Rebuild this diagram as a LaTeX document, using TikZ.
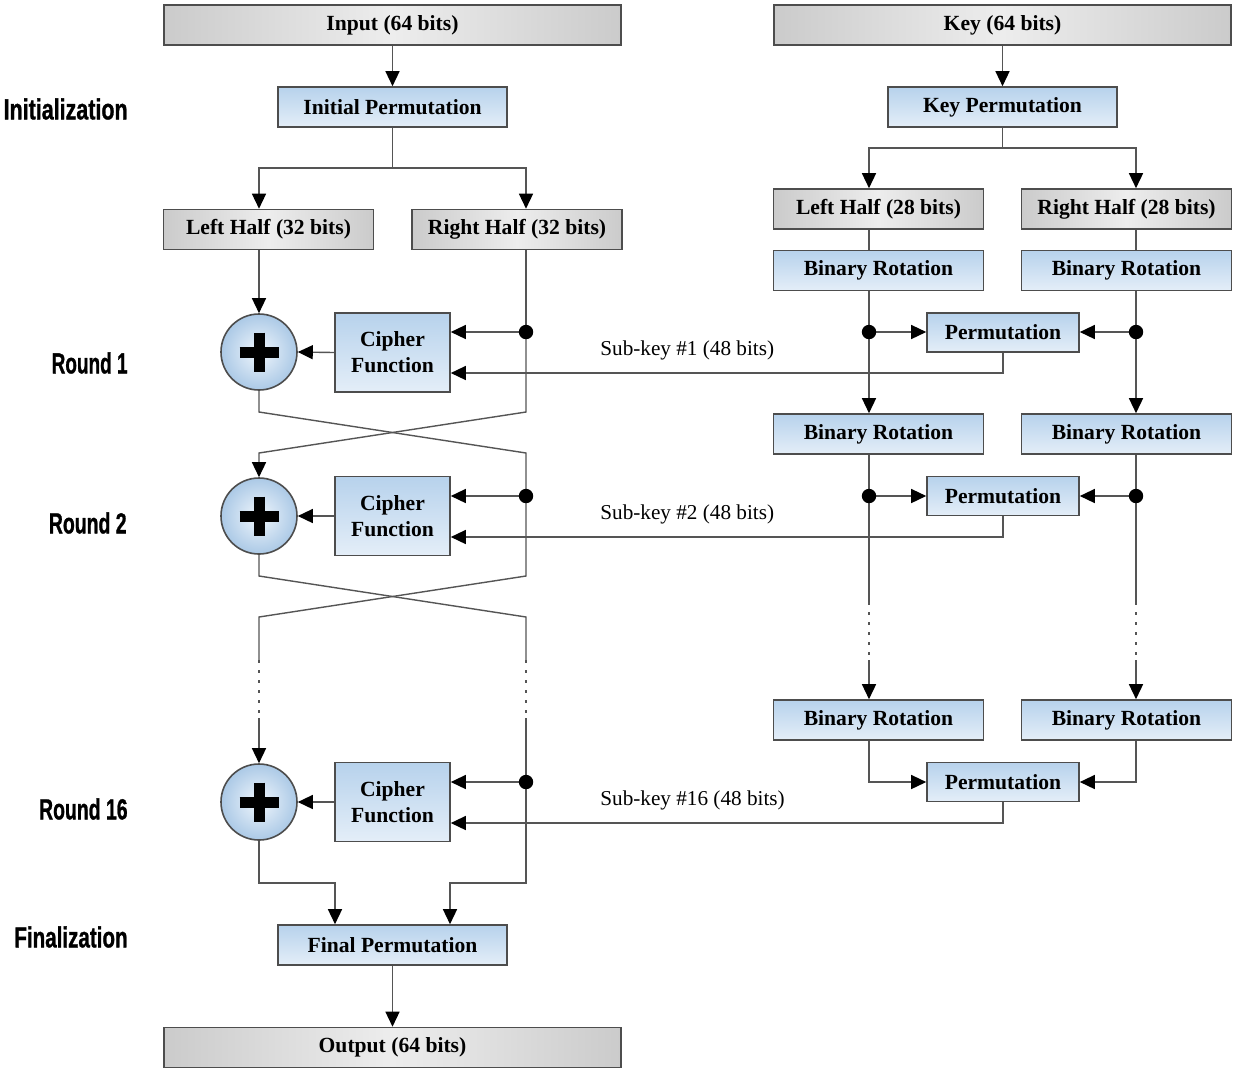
\documentclass[tikz,border=0pt]{standalone}
\usepackage{fontspec}
\setmainfont{Liberation Serif}
\newfontfamily\lblfont{Liberation Sans}[BoldFeatures={FakeBold=1.2}]
\usetikzlibrary{arrows.meta}

\definecolor{edge}{HTML}{4D4D4D}
\definecolor{wirec}{HTML}{555555}
\definecolor{grayA}{HTML}{CBCBCB}
\definecolor{grayB}{HTML}{EDEDED}
\definecolor{blueA}{HTML}{B7D2EC}
\definecolor{blueB}{HTML}{E4EEF8}
\definecolor{circIn}{HTML}{F0F6FC}
\definecolor{circOut}{HTML}{ABC9E6}

\tikzset{
  box/.style={draw=edge, line width=0.8pt, inner sep=0pt,
    font=\fontsize{10.8}{13}\selectfont\bfseries, align=center},
  graybox/.style={box, left color=grayA, right color=grayA, middle color=grayB},
  bluebox/.style={box, top color=blueA, bottom color=blueB},
  wide/.style={minimum width=228.5pt, minimum height=20pt},
  perm/.style={minimum width=114.5pt, minimum height=20pt},
  half/.style={minimum width=105pt, minimum height=20pt},
  smallperm/.style={minimum width=76pt, minimum height=19.5pt},
  cipher/.style={bluebox, minimum width=57.5pt, minimum height=39.5pt},
  xorc/.style={circle, draw=edge, line width=0.8pt, minimum size=38pt, inner sep=0pt,
    inner color=circIn, outer color=circOut},
  wire/.style={draw=wirec, line width=0.7pt},
  arr/.style={wire, -{Triangle[length=7.5pt,width=7pt,color=black]}},
  dotline/.style={wire, dash pattern=on 1.6pt off 3.4pt},
  plusbar/.style={line width=5.5pt, black},
  sidelbl/.style={anchor=east, inner sep=0pt, font=\lblfont\fontsize{14.5}{16}\selectfont\bfseries},
  sublbl/.style={anchor=west, inner sep=0pt, font=\fontsize{10.6}{12}\selectfont},
}

\begin{document}
\begin{tikzpicture}[x=0.5pt, y=-0.5pt]
\fill[white] (0,0) rectangle (1236,1083);
\useasboundingbox (0,0) rectangle (1236,1083);

% ---------- left column nodes ----------
\node[graybox, wide] (inp) at (392.5,25) {Input (64 bits)};
\node[bluebox, perm] (ip) at (392.5,107) {Initial Permutation};
\node[graybox, half] (lh) at (268.5,229.5) {Left Half (32 bits)};
\node[graybox, half] (rh) at (517,229.5) {Right Half (32 bits)};
\node[xorc] (xor1) at (259,352) {};
\node[xorc] (xor2) at (259,516) {};
\node[xorc] (xor3) at (259,802) {};
\node[cipher] (cf1) at (392.5,352.5) {Cipher\\Function};
\node[cipher] (cf2) at (392.5,516) {Cipher\\Function};
\node[cipher] (cf3) at (392.5,802) {Cipher\\Function};
\node[bluebox, perm] (fp) at (392.5,945) {Final Permutation};
\node[graybox, wide] (out) at (392.5,1047.5) {Output (64 bits)};

% ---------- right column nodes ----------
\node[graybox, wide] (key) at (1002.5,25) {Key (64 bits)};
\node[bluebox, perm] (kp) at (1002.5,107) {Key Permutation};
\node[graybox, half] (klh) at (878.5,209) {Left Half (28 bits)};
\node[graybox, half] (krh) at (1126.5,209) {Right Half (28 bits)};
\node[bluebox, half] (br1l) at (878.5,270.5) {Binary Rotation};
\node[bluebox, half] (br1r) at (1126.5,270.5) {Binary Rotation};
\node[bluebox, smallperm] (perm1) at (1003,332.5) {Permutation};
\node[bluebox, half] (br2l) at (878.5,434) {Binary Rotation};
\node[bluebox, half] (br2r) at (1126.5,434) {Binary Rotation};
\node[bluebox, smallperm] (perm2) at (1003,496) {Permutation};
\node[bluebox, half] (br3l) at (878.5,720) {Binary Rotation};
\node[bluebox, half] (br3r) at (1126.5,720) {Binary Rotation};
\node[bluebox, smallperm] (perm3) at (1003,782) {Permutation};

% ---------- labels ----------
\node[sidelbl] (lInit) at (128,109) {\scalebox{0.74}[1]{Initialization}};
\node[sidelbl] (lR1) at (128,363) {\scalebox{0.655}[1]{Round 1}};
\node[sidelbl] (lR2) at (127,523) {\scalebox{0.67}[1]{Round 2}};
\node[sidelbl] (lR16) at (128,809) {\scalebox{0.67}[1]{Round 16}};
\node[sidelbl] (lFin) at (128,937) {\scalebox{0.71}[1]{Finalization}};
\node[sublbl] (sk1) at (600,350) {Sub-key \#1 (48 bits)};
\node[sublbl] (sk2) at (600,514) {Sub-key \#2 (48 bits)};
\node[sublbl] (sk16) at (600,800) {Sub-key \#16 (48 bits)};

% ---------- coordinates ----------
\coordinate (ipl) at (259,168);  \coordinate (ipr) at (526,168);
\coordinate (kl) at (869,148);   \coordinate (kr) at (1136,148);
\coordinate (d1) at (526,332);   \coordinate (d2) at (526,496);  \coordinate (d3) at (526,782);
\coordinate (kd1l) at (869,332); \coordinate (kd1r) at (1136,332);
\coordinate (kd2l) at (869,496); \coordinate (kd2r) at (1136,496);
\coordinate (k1) at (1003,373);  \coordinate (k2) at (1003,537); \coordinate (k3) at (1003,823);
\coordinate (x1a) at (259,412);  \coordinate (x1b) at (526,412);
\coordinate (x1c) at (259,453);  \coordinate (x1d) at (526,453);
\coordinate (x2a) at (259,576);  \coordinate (x2b) at (526,576);
\coordinate (x2c) at (259,617);  \coordinate (x2d) at (526,617);
\coordinate (g1) at (259,660);   \coordinate (g2) at (259,718);
\coordinate (g3) at (526,660);   \coordinate (g4) at (526,718);
\coordinate (kg1) at (869,602);  \coordinate (kg2) at (869,660);
\coordinate (kg3) at (1136,602); \coordinate (kg4) at (1136,660);
\coordinate (f1) at (335,883);   \coordinate (f2) at (450,883);

% ---------- left connectors ----------
\draw[arr] (inp.south) -- (ip.north);
\draw[arr] (ip.south) |- (ipl) -- (lh.north -| ipl);
\draw[arr] (ip.south) |- (ipr) -- (rh.north -| ipr);
\draw[arr] (lh.south -| xor1) -- (xor1.north);
\draw[wire] (rh.south -| d1) -- (d1);

\draw[arr] (d1) -- (d1 -| cf1.east);
\draw[arr] (d2) -- (d2 -| cf2.east);
\draw[arr] (d3) -- (d3 -| cf3.east);
\draw[arr] (cf1.west) -- (xor1.east);
\draw[arr] (cf2.west) -- (xor2.east);
\draw[arr] (cf3.west) -- (xor3.east);

\draw[wire] (xor1.south) -- (x1a) -- (x1d) -- (d2);
\draw[arr] (d1) -- (x1b) -- (x1c) -- (xor2.north);
\draw[wire] (xor2.south) -- (x2a) -- (x2d) -- (g3);
\draw[wire] (d2) -- (x2b) -- (x2c) -- (g1);
\draw[dotline] (g1) -- (g2);
\draw[dotline] (g3) -- (g4);
\draw[arr] (g2) -- (xor3.north);
\draw[wire] (g4) -- (d3);

\draw[arr] (xor3.south) |- (f1) -- (fp.north -| f1);
\draw[arr] (d3) |- (f2) -- (fp.north -| f2);
\draw[arr] (fp.south) -- (out.north);

% ---------- right connectors ----------
\draw[arr] (key.south) -- (kp.north);
\draw[arr] (kp.south) |- (kl) -- (klh.north -| kl);
\draw[arr] (kp.south) |- (kr) -- (krh.north -| kr);
\draw[wire] (klh.south -| kl) -- (br1l.north -| kl);
\draw[wire] (krh.south -| kr) -- (br1r.north -| kr);
\draw[wire] (br1l.south -| kl) -- (kd1l);
\draw[wire] (br1r.south -| kr) -- (kd1r);
\draw[arr] (kd1l) -- (kd1l -| perm1.west);
\draw[arr] (kd1r) -- (kd1r -| perm1.east);
\draw[arr] (kd1l) -- (br2l.north -| kd1l);
\draw[arr] (kd1r) -- (br2r.north -| kd1r);
\draw[wire] (br2l.south -| kl) -- (kd2l);
\draw[wire] (br2r.south -| kr) -- (kd2r);
\draw[arr] (kd2l) -- (kd2l -| perm2.west);
\draw[arr] (kd2r) -- (kd2r -| perm2.east);
\draw[wire] (kd2l) -- (kg1);
\draw[wire] (kd2r) -- (kg3);
\draw[dotline] (kg1) -- (kg2);
\draw[dotline] (kg3) -- (kg4);
\draw[arr] (kg2) -- (br3l.north -| kg2);
\draw[arr] (kg4) -- (br3r.north -| kg4);
\draw[arr] (br3l.south -| kl) |- (perm3.west);
\draw[arr] (br3r.south -| kr) |- (perm3.east);

\draw[arr] (perm1.south) -- (k1) -- (k1 -| cf1.east);
\draw[arr] (perm2.south) -- (k2) -- (k2 -| cf2.east);
\draw[arr] (perm3.south) -- (k3) -- (k3 -| cf3.east);

% ---------- dots and plus signs ----------
\foreach \d in {d1,d2,d3,kd1l,kd1r,kd2l,kd2r}
  \fill[black] (\d) circle[radius=3.6pt];
\foreach \x in {xor1,xor2,xor3} {
  \draw[plusbar] (\x.center) ++(-19.5,0) -- ++(39,0);
  \draw[plusbar] (\x.center) ++(0,-19.5) -- ++(0,39);
}
\end{tikzpicture}
\end{document}
